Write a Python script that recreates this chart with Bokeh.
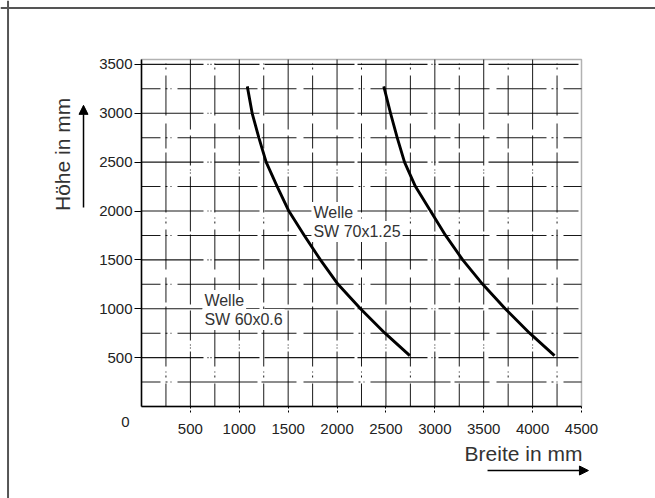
from bokeh.plotting import figure
from bokeh.models import (Label, Arrow, NormalHead, FixedTicker, Range1d, LinearAxis,
                          BoxAnnotation, Span)
from bokeh.embed import file_html
from bokeh.resources import INLINE

# ---- data ----
x_ticks = [500, 1000, 1500, 2000, 2500, 3000, 3500, 4000, 4500]
y_ticks = [500, 1000, 1500, 2000, 2500, 3000, 3500]
grid_x_major = [500, 1000, 1500, 2000, 2500, 3000, 3500, 4000]
grid_x_minor = [250, 750, 1250, 1750, 2250, 2750, 3250, 3750, 4250]
grid_y_major = [500, 1000, 1500, 2000, 2500, 3000, 3500]
grid_y_minor = [250, 750, 1250, 1750, 2250, 2750, 3250]

sw60_breite = [1082, 1132, 1200, 1275, 1388, 1507, 1665, 1830, 2010, 2240, 2490, 2744]
sw60_hoehe = [3275, 3000, 2750, 2500, 2250, 2000, 1750, 1500, 1250, 1000, 750, 520]
sw70_breite = [2478, 2547, 2615, 2690, 2802, 2956, 3110, 3285, 3490, 3720, 3970, 4224]
sw70_hoehe = [3275, 3000, 2750, 2500, 2250, 2000, 1750, 1500, 1250, 1000, 750, 520]

X_MAX, Y_MAX = 4500, 3550

FONT = "Liberation Sans"
TXT = "#333333"

# the frame covers the whole canvas so that titles/arrows are not clipped
p = figure(width=655, height=498, output_backend="svg", toolbar_location=None,
           x_range=Range1d(-1442.0, 5256.8), y_range=Range1d(-941.2, 4153.6),
           x_axis_type=None, y_axis_type=None,
           min_border=0, min_border_left=0, min_border_right=0,
           min_border_top=0, min_border_bottom=0)
p.outline_line_color = None
p.background_fill_color = "white"
p.border_fill_color = "white"

# page frame (top / left)
p.add_layout(Span(location=-1365, dimension="height", line_color="#555555", line_width=2))
p.add_layout(Span(location=4077, dimension="width", line_color="#555555", line_width=2))

# broken (scanned-look) grid lines
for ticks, vertical, dash, off in [
    (grid_x_major, True, "55 3 1 2 1 4 30 6 70 3", 0),
    (grid_x_minor, True, "40 6 2 3 1 5 60 4 25 8", 17),
    (grid_y_major, False, "70 4 1 2 1 3 45 5 90 3", 8),
    (grid_y_minor, False, "50 5 2 3 1 6 80 4 35 7", 31),
]:
    n = len(ticks)
    if vertical:
        p.segment(x0=ticks, y0=[0] * n, x1=ticks, y1=[Y_MAX] * n,
                  line_color="black", line_alpha=0.9, line_width=1,
                  line_dash=dash, line_dash_offset=off)
    else:
        p.segment(x0=[0] * n, y0=ticks, x1=[X_MAX] * n, y1=ticks,
                  line_color="black", line_alpha=0.9, line_width=1.1,
                  line_dash=dash, line_dash_offset=off)

# plot box
p.add_layout(BoxAnnotation(left=0, right=X_MAX, bottom=0, top=Y_MAX,
                           fill_alpha=0, line_color="black", line_width=1.5))

# axes at fixed locations
xax = LinearAxis(fixed_location=0, bounds=(0, X_MAX), ticker=FixedTicker(ticks=x_ticks))
yax = LinearAxis(fixed_location=0, bounds=(0, Y_MAX), ticker=FixedTicker(ticks=y_ticks))
for ax in (xax, yax):
    ax.axis_line_color = "black"
    ax.axis_line_width = 1.5
    ax.major_tick_line_color = "black"
    ax.major_tick_in = 0
    ax.minor_tick_line_color = None
    ax.major_label_text_font = FONT
    ax.major_label_text_font_size = "15px"
    ax.major_label_text_color = "#222222"
xax.major_tick_out = 6
xax.major_tick_line_dash = "2 2"
xax.major_label_standoff = 11
yax.major_tick_out = 7
yax.major_label_standoff = 2
p.add_layout(xax, "below")
p.add_layout(yax, "left")

# curves
p.line(sw60_breite, sw60_hoehe, line_color="black", line_width=2.9, line_join="round")
p.line(sw70_breite, sw70_hoehe, line_color="black", line_width=2.9, line_join="round")

def lab(x, y, text, size, angle=0.0, align="left", bg=True, color=TXT):
    l = Label(x=x, y=y, text=text, text_font=FONT, text_font_size=size,
              text_color=color, text_align=align, text_baseline="middle", angle=angle)
    if bg:
        l.background_fill_color = "white"
        l.padding = 2
    p.add_layout(l)

lab(1738, 1986, "Welle", "16px")
lab(1738, 1791, "SW 70x1.25", "16px")
lab(623, 1085, "Welle", "16px")
lab(623, 890, "SW 60x0.6", "16px")

# corner zero, axis titles and arrows
lab(-164, -154, "0", "15px", align="center", bg=False, color="#222222")
lab(-808, 2579, "Höhe in mm", "21px", angle=1.5708, align="center", bg=False)
lab(3907, -481, "Breite in mm", "21px", align="center", bg=False)

p.add_layout(Arrow(end=NormalHead(size=9, fill_color="black", line_color="black"),
                   x_start=-593, y_start=2037, x_end=-593, y_end=3081,
                   line_color="black", line_width=1.5))
p.add_layout(Arrow(end=NormalHead(size=9, fill_color="black", line_color="black"),
                   x_start=3539, y_start=-655, x_end=4571, y_end=-655,
                   line_color="black", line_width=1.5))

open("out.html", "w").write(file_html(p, INLINE))
